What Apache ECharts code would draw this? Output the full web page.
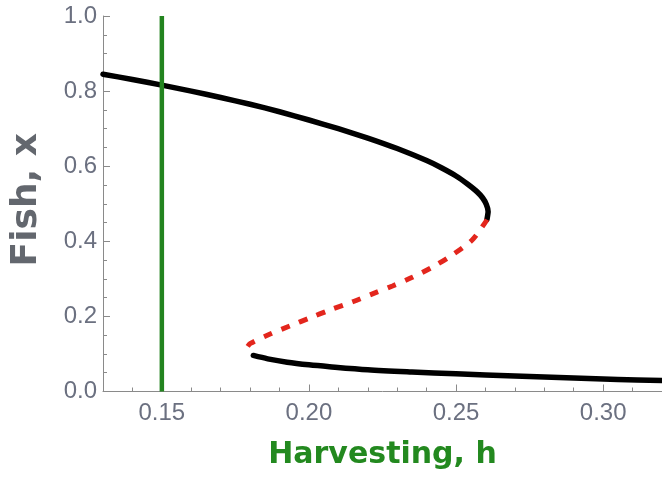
<!DOCTYPE html>
<html>
<head>
<meta charset="utf-8">
<script src="https://cdn.jsdelivr.net/npm/echarts@6/dist/echarts.min.js"></script>
<style>html,body{margin:0;padding:0;background:#fff}#c{width:662px;height:482px}</style>
</head>
<body>
<div id="c"></div>
<script>
// Stable upper branch (h, x)
const upperH = [0.13, 0.14, 0.15, 0.16, 0.17, 0.18, 0.19, 0.20, 0.21, 0.22, 0.23, 0.24, 0.245, 0.25, 0.254, 0.257, 0.259, 0.2603, 0.2609, 0.2605];
const upperX = [0.845, 0.831, 0.816, 0.800, 0.783, 0.765, 0.745, 0.723, 0.700, 0.675, 0.647, 0.615, 0.596, 0.574, 0.552, 0.533, 0.516, 0.498, 0.479, 0.458];
// Unstable middle branch (dashed red)
const unstableH = [0.2605, 0.2600, 0.2554, 0.2486, 0.2419, 0.2351, 0.2284, 0.2216, 0.2149, 0.2071, 0.2003, 0.1936, 0.1868, 0.1801, 0.1790];
const unstableX = [0.458, 0.451, 0.403, 0.363, 0.331, 0.304, 0.281, 0.260, 0.239, 0.217, 0.196, 0.175, 0.153, 0.128, 0.118];
// Stable lower branch
const lowerH = [0.1811, 0.186, 0.1926, 0.200, 0.207, 0.220, 0.235, 0.250, 0.270, 0.290, 0.305, 0.320];
const lowerX = [0.096, 0.087, 0.078, 0.071, 0.066, 0.058, 0.052, 0.047, 0.041, 0.036, 0.032, 0.029];
// Harvest level marker
const harvestH = [0.15, 0.15];
const harvestX = [0.0, 1.0];
// Axis tick labels
const xTickLabels = ['0.15', '0.20', '0.25', '0.30'];
const yTickLabels = ['0.0', '0.2', '0.4', '0.6', '0.8', '1.0'];

const zip = (a, b) => a.map((v, i) => [v, b[i]]);
const labelColor = '#6b7080';
const axisColor = '#8a8a8a';

const chart = echarts.init(document.getElementById('c'), null, {renderer: 'canvas'});
chart.setOption({
  animation: false,
  grid: {left: 103, right: -3, top: 16, bottom: 90.5, containLabel: false},
  xAxis: [{
    type: 'value', min: 0.13, max: 0.32, interval: 0.01, position: 'bottom',
    name: 'Harvesting, h', nameLocation: 'middle', nameGap: 49,
    nameTextStyle: {fontFamily: 'DejaVu Sans', fontWeight: 'bold', fontSize: 30, color: '#23891f'},
    axisLine: {show: true, lineStyle: {color: axisColor, width: 1}},
    axisTick: {show: true, inside: true, length: 4, lineStyle: {color: axisColor}},
    axisLabel: {
      margin: 10, color: labelColor, fontFamily: 'Liberation Sans', fontSize: 24,
      showMinLabel: false, showMaxLabel: false,
      formatter: v => { const s = v.toFixed(2); return xTickLabels.indexOf(s) >= 0 ? s : ''; }
    },
    splitLine: {show: false}
  }, {
    type: 'value', min: 0.13, max: 0.32, splitNumber: 4, position: 'bottom',
    axisLine: {show: false},
    axisTick: {show: true, inside: true, length: 7, lineStyle: {color: axisColor}},
    axisLabel: {show: false},
    splitLine: {show: false}
  }],
  yAxis: {
    type: 'value', min: 0, max: 1, interval: 0.2,
    name: 'Fish, x', nameLocation: 'middle', nameGap: 58, nameRotate: 90,
    nameTextStyle: {fontFamily: 'DejaVu Sans', fontWeight: 'bold', fontSize: 36, color: '#63676e', padding: [0, 0, 0, 8]},
    axisLine: {show: true, lineStyle: {color: axisColor, width: 1}},
    axisTick: {show: true, inside: true, length: 7, lineStyle: {color: axisColor}},
    minorTick: {show: true, splitNumber: 4, length: 4, lineStyle: {color: axisColor}},
    axisLabel: {
      margin: 6, color: labelColor, fontFamily: 'Liberation Sans', fontSize: 24,
      formatter: v => { const s = v.toFixed(1); return yTickLabels.indexOf(s) >= 0 ? s : ''; }
    },
    splitLine: {show: false}
  },
  series: [{
    type: 'line', data: zip(upperH, upperX), smooth: 0.15, symbol: 'none',
    lineStyle: {color: '#000', width: 5.5, join: 'round', cap: 'round'}, z: 3
  }, {
    type: 'line', data: zip(lowerH, lowerX), smooth: 0.3, symbol: 'none',
    lineStyle: {color: '#000', width: 5.5, join: 'round', cap: 'round'}, z: 3
  }, {
    type: 'line', data: zip(unstableH, unstableX), smooth: 0.3, symbol: 'none',
    lineStyle: {color: '#e3261d', width: 5, type: [9, 10]}, z: 3
  }, {
    type: 'line', data: zip(harvestH, harvestX), symbol: 'none',
    lineStyle: {color: '#23841f', width: 4.5}, z: 4
  }]
});
</script>
</body>
</html>
